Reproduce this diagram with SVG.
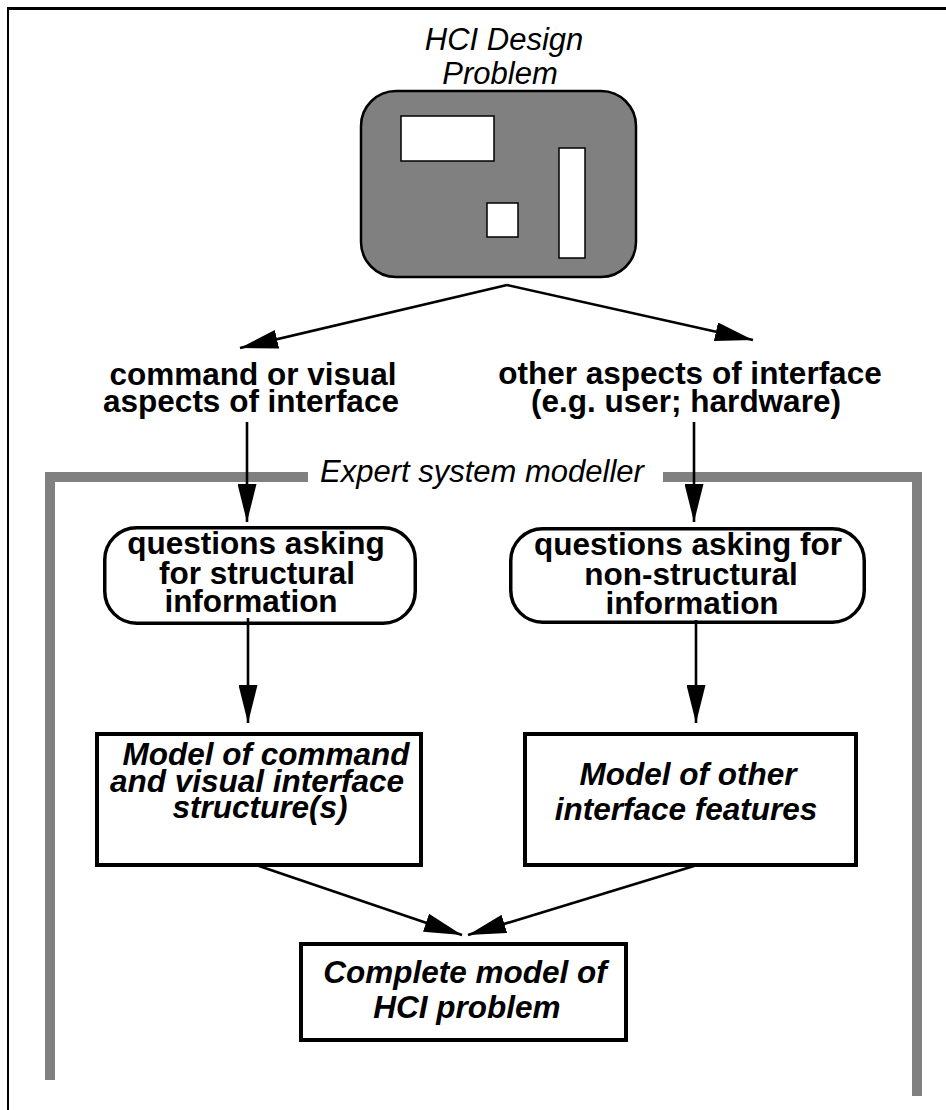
<svg xmlns="http://www.w3.org/2000/svg" width="946" height="1110" viewBox="0 0 946 1110">
<style>
text{font-family:"Liberation Sans",Arial,sans-serif;text-anchor:middle;fill:#000}
.it{font-style:italic;font-size:31px}
.b{font-weight:bold;font-size:31.5px}
.bi{font-weight:bold;font-style:italic;font-size:31.5px}
.conn{stroke:#000;stroke-width:2.6;fill:none;marker-end:url(#ah)}
.box{fill:#fff;stroke:#000;stroke-width:4}
.qbox{fill:#fff;stroke:#000;stroke-width:3.5}
.win{fill:#fff;stroke:#000;stroke-width:1.5}
.frame{fill:none;stroke:#808080;stroke-width:10}
</style>
<defs>
<marker id="ah" markerUnits="userSpaceOnUse" markerWidth="38" markerHeight="19" refX="38" refY="9.5" orient="auto">
<path d="M0,0 L38,9.5 L0,19 Z" fill="#000"/>
</marker>
</defs>
<rect width="946" height="1110" fill="#fff"/>
<g id="border">
<line x1="8" y1="7" x2="8" y2="1110" stroke="#000" stroke-width="2"/>
<line x1="7" y1="8.5" x2="946" y2="8.5" stroke="#000" stroke-width="3"/>
</g>
<g id="expert-frame">
<path class="frame" d="M50 1080 V477 H308"/>
<path class="frame" d="M663 477 H917 V1096"/>
<text class="it" x="482" y="482">Expert system modeller</text>
</g>
<g id="hci-problem">
<text class="it" x="504" y="50">HCI Design</text>
<text class="it" x="500" y="84">Problem</text>
<rect x="361" y="91" width="275" height="186" rx="35" fill="#808080" stroke="#000" stroke-width="2.5"/>
<rect class="win" x="401" y="116" width="93" height="45"/>
<rect class="win" x="487" y="203" width="31" height="34"/>
<rect class="win" x="559" y="148" width="26" height="110"/>
</g>
<g id="command-aspects">
<text class="b" x="253" y="385">command or visual</text>
<text class="b" x="251" y="412">aspects of interface</text>
</g>
<g id="other-aspects">
<text class="b" x="690" y="384">other aspects of interface</text>
<text class="b" x="686" y="412">(e.g. user; hardware)</text>
</g>
<g id="q-structural">
<rect class="qbox" x="104.75" y="527.75" width="310.5" height="95.5" rx="32"/>
<text class="b" x="256" y="554">questions asking</text>
<text class="b" x="257" y="584">for structural</text>
<text class="b" x="251" y="612">information</text>
</g>
<g id="q-nonstructural">
<rect class="qbox" x="510.75" y="528.75" width="353.5" height="93.5" rx="32"/>
<text class="b" x="688" y="555">questions asking for</text>
<text class="b" x="691" y="585">non-structural</text>
<text class="b" x="692" y="614">information</text>
</g>
<g id="model-command">
<rect class="box" x="97" y="734" width="324" height="131"/>
<text class="bi" x="266" y="765">Model of command</text>
<text class="bi" x="257" y="791.5">and visual interface</text>
<text class="bi" x="260" y="818">structure(s)</text>
</g>
<g id="model-other">
<rect class="box" x="525" y="734" width="331" height="131"/>
<text class="bi" x="688" y="785">Model of other</text>
<text class="bi" x="686" y="820">interface features</text>
</g>
<g id="complete-model">
<rect class="box" x="301" y="944" width="325" height="96"/>
<text class="bi" x="465" y="983">Complete model of</text>
<text class="bi" x="467" y="1018">HCI problem</text>
</g>
<g id="connectors">
<line class="conn" x1="507" y1="285" x2="240" y2="348"/>
<line class="conn" x1="507" y1="285" x2="753" y2="340"/>
<line class="conn" x1="247" y1="422" x2="247" y2="522"/>
<line class="conn" x1="694" y1="422" x2="694" y2="522"/>
<line class="conn" x1="248" y1="618" x2="248" y2="723"/>
<line class="conn" x1="696" y1="620" x2="696" y2="723"/>
<line class="conn" x1="259" y1="866" x2="462" y2="935"/>
<line class="conn" x1="694" y1="866" x2="468" y2="935"/>
</g>
</svg>
